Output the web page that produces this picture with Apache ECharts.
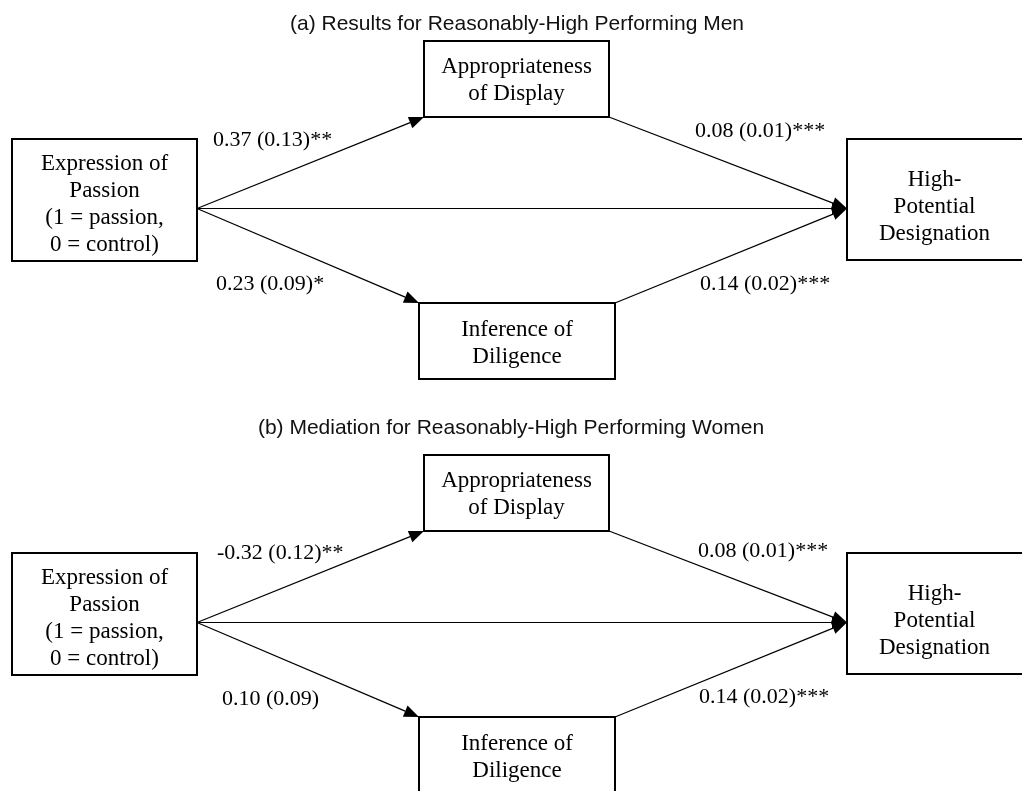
<!DOCTYPE html>
<html>
<head>
<meta charset="utf-8">
<title>Mediation paths</title>
<script src="https://cdn.jsdelivr.net/npm/echarts@6/dist/echarts.min.js"></script>
<style>
  html, body { margin: 0; padding: 0; background: #fff; }
  #chart { width: 1022px; height: 791px; }
</style>
</head>
<body>
<div id="chart"></div>
<script>
// ---- content ----
const panelTitles = [
  '(a) Results for Reasonably-High Performing Men',
  '(b) Mediation for Reasonably-High Performing Women'
];
const nodeNames = [
  'Expression of\nPassion\n(1 = passion,\n0 = control)',
  'Appropriateness\nof Display',
  'Inference of\nDiligence',
  'High-\nPotential\nDesignation'
];
// path order: passion->display, display->potential, passion->diligence, diligence->potential
const menEstimates = [0.37, 0.08, 0.23, 0.14];
const menErrors = [0.13, 0.01, 0.09, 0.02];
const menStars = ['**', '***', '*', '***'];
const womenEstimates = [-0.32, 0.08, 0.10, 0.14];
const womenErrors = [0.12, 0.01, 0.09, 0.02];
const womenStars = ['**', '***', '', '***'];

// ---- layout (diagram units, one panel) ----
const panelOffsets = [0, 414];
const titleCenters = [[517, 24], [511, 428 - 414]];
const nodeBoxes = [
  [12, 139, 197, 261],
  [424, 41, 609, 117],
  [419, 303, 615, 379],
  [847, 139, 1030, 260]
];
const nodeTextShift = [4, 1, 2, 7];
const edgeAnchors = [
  [197, 208.5, 424, 117],
  [197, 208.5, 419, 303],
  [609, 117, 847, 208.5],
  [615, 303, 847, 208.5],
  [197, 208.5, 847, 208.5]
];
const labelAnchors = [
  [[213, 140], [695, 131], [216, 284], [700, 284]],
  [[217, 139], [698, 137], [222, 285], [699, 283]]
];

const estimates = [menEstimates, womenEstimates];
const errors = [menErrors, womenErrors];
const stars = [menStars, womenStars];

const SERIF = '"Liberation Serif", "Times New Roman", serif';
const SANS = '"Liberation Sans", Arial, sans-serif';

function pathLabel(panel, k) {
  return estimates[panel][k].toFixed(2) + ' (' + errors[panel][k].toFixed(2) + ')' + stars[panel][k];
}

const nodeData = [];
panelOffsets.forEach((_, p) => nodeNames.forEach((_, n) => nodeData.push([p, n])));
const edgeData = [];
panelOffsets.forEach((_, p) => edgeAnchors.forEach((_, e) => edgeData.push([p, e])));
const labelData = [];
panelOffsets.forEach((_, p) => estimates[p].forEach((_, k) => labelData.push([p, k])));
const titleData = panelTitles.map((_, p) => [p, 0]);

function renderNode(params, api) {
  const p = api.value(0), n = api.value(1);
  const b = nodeBoxes[n], dy = panelOffsets[p];
  const a = api.coord([b[0], b[1] + dy]);
  const c = api.coord([b[2], b[3] + dy]);
  return {
    type: 'group',
    children: [
      {
        type: 'rect',
        shape: { x: a[0], y: a[1], width: c[0] - a[0], height: c[1] - a[1] },
        style: { fill: '#fff', stroke: '#000', lineWidth: 2 }
      },
      {
        type: 'text',
        style: {
          text: nodeNames[n],
          x: (a[0] + Math.min(c[0], 1022)) / 2,
          y: (a[1] + c[1]) / 2 + nodeTextShift[n],
          align: 'center',
          verticalAlign: 'middle',
          font: '23px ' + SERIF,
          lineHeight: 27,
          fill: '#000'
        }
      }
    ]
  };
}

function renderEdge(params, api) {
  const p = api.value(0), e = api.value(1);
  const d = edgeAnchors[e], dy = panelOffsets[p];
  const s = api.coord([d[0], d[1] + dy]);
  const t = api.coord([d[2], d[3] + dy]);
  const dx = t[0] - s[0], dyy = t[1] - s[1];
  const len = Math.sqrt(dx * dx + dyy * dyy);
  const ux = dx / len, uy = dyy / len;
  const headLen = 15, headHalf = 6;
  const bx = t[0] - ux * headLen, by = t[1] - uy * headLen;
  return {
    type: 'group',
    children: [
      {
        type: 'line',
        shape: { x1: s[0], y1: s[1], x2: bx, y2: by },
        style: { stroke: '#000', lineWidth: 1.2 }
      },
      {
        type: 'polygon',
        shape: {
          points: [
            [t[0], t[1]],
            [bx - uy * headHalf, by + ux * headHalf],
            [bx + uy * headHalf, by - ux * headHalf]
          ]
        },
        style: { fill: '#000' }
      }
    ]
  };
}

function renderLabel(params, api) {
  const p = api.value(0), k = api.value(1);
  const pos = labelAnchors[p][k], dy = panelOffsets[p];
  const q = api.coord([pos[0], pos[1] + dy]);
  return {
    type: 'text',
    style: {
      text: pathLabel(p, k),
      x: q[0], y: q[1],
      align: 'left', verticalAlign: 'middle',
      font: '22px ' + SERIF,
      fill: '#000'
    }
  };
}

function renderTitle(params, api) {
  const p = api.value(0);
  const pos = titleCenters[p];
  const q = api.coord([pos[0], pos[1] + panelOffsets[p]]);
  return {
    type: 'text',
    style: {
      text: panelTitles[p],
      x: q[0], y: q[1],
      align: 'center', verticalAlign: 'middle',
      font: '21px ' + SANS,
      fill: '#111'
    }
  };
}

const chart = echarts.init(document.getElementById('chart'), null, { renderer: 'canvas' });
chart.setOption({
  animation: false,
  backgroundColor: '#fff',
  grid: { left: 0, right: 0, top: 0, bottom: 0 },
  xAxis: { type: 'value', min: 0, max: 1022, show: false },
  yAxis: { type: 'value', min: 0, max: 791, inverse: true, show: false },
  series: [
    { type: 'custom', name: 'nodes', coordinateSystem: 'cartesian2d', renderItem: renderNode, data: nodeData, clip: false, silent: true },
    { type: 'custom', name: 'paths', coordinateSystem: 'cartesian2d', renderItem: renderEdge, data: edgeData, clip: false, silent: true },
    { type: 'custom', name: 'coefficients', coordinateSystem: 'cartesian2d', renderItem: renderLabel, data: labelData, clip: false, silent: true },
    { type: 'custom', name: 'titles', coordinateSystem: 'cartesian2d', renderItem: renderTitle, data: titleData, clip: false, silent: true }
  ]
});
</script>
</body>
</html>
